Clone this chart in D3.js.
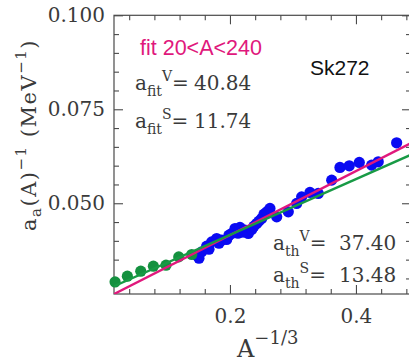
<!DOCTYPE html>
<html>
<head>
<meta charset="utf-8">
<script src="https://cdn.jsdelivr.net/npm/d3@7/dist/d3.min.js"></script>
<style>
  html, body { margin: 0; padding: 0; background: #ffffff; }
  svg { display: block; }
</style>
</head>
<body>
<svg id="chart" width="409" height="364"></svg>
<script>
// ---- data ----
const greenX = [0.0176, 0.0371, 0.0584, 0.0784, 0.0985, 0.1187, 0.1393];
const greenY = [0.02907, 0.03059, 0.03192, 0.03325, 0.03352, 0.03573, 0.03637];

const blueX = [0.1472, 0.1508, 0.1551, 0.1630, 0.1667, 0.1710, 0.1789, 0.1826, 0.1869, 0.1948,
               0.1984, 0.2027, 0.2080, 0.2127, 0.2159, 0.2207, 0.2238, 0.2291, 0.2345, 0.2381,
               0.2424, 0.2461, 0.2503, 0.2540, 0.2583, 0.2635, 0.2742, 0.2926, 0.3059, 0.3138,
               0.3270, 0.3402, 0.3615, 0.3746, 0.3894, 0.4053, 0.4249, 0.4354, 0.4646];
const blueY = [0.03618, 0.03538, 0.03706, 0.03858, 0.03778, 0.03972, 0.04063, 0.03938, 0.04018, 0.04036,
               0.04151, 0.04196, 0.04329, 0.04204, 0.04356, 0.04231, 0.04284, 0.04196, 0.04302, 0.04390,
               0.04462, 0.04524, 0.04595, 0.04710, 0.04771, 0.04862, 0.04638, 0.04771, 0.04995, 0.05170,
               0.05288, 0.05261, 0.05615, 0.05953, 0.05996, 0.06086, 0.06014, 0.06102, 0.06608];

// fit lines (end points)
const fitLineX = [0.0159, 0.4874];
const fitLineY = [0.02585, 0.06601];   // magenta, fit 20<A<240
const thLineX  = [0.0159, 0.4874];
const thLineY  = [0.02792, 0.06290];   // green, theory

const xMajorTicks = [0.2, 0.4];
const xMinorTicks = [0.04, 0.08, 0.12, 0.16, 0.24, 0.28, 0.32, 0.36, 0.44, 0.48];
const yMajorTicks = [0.050, 0.075, 0.100];
const yMinorTicks = [0.030, 0.035, 0.040, 0.045, 0.055, 0.060, 0.065, 0.070, 0.080, 0.085, 0.090, 0.095];

// ---- layout ----
const L = 114, R = 411, T = 15.3, B = 294;
const svg = d3.select("#chart");
const x = d3.scaleLinear().domain([0.0159, 0.4874]).range([L, R]);
const y = d3.scaleLinear().domain([0.02586, 0.100]).range([B, T]);

const axisColor = "#4a4a4a";
const textColor = "#3a3a3a";

svg.append("defs").append("clipPath").attr("id", "clip")
  .append("rect").attr("x", L).attr("y", T).attr("width", R - L).attr("height", B - T);

// frame
svg.append("rect").attr("x", L).attr("y", T).attr("width", R - L).attr("height", B - T)
  .attr("fill", "none").attr("stroke", axisColor).attr("stroke-width", 1.2);

function styleAxis(g) {
  g.select(".domain").remove();
  g.attr("font-family", "DejaVu Serif").attr("font-size", 20);
  g.selectAll(".tick line").attr("stroke", axisColor).attr("stroke-width", 1.1);
  g.selectAll("text").attr("fill", textColor);
}

// bottom axis
svg.append("g").attr("transform", `translate(0,${B})`)
  .call(d3.axisBottom(x).tickValues(xMajorTicks).tickSize(-9).tickPadding(15).tickFormat(d3.format(".1f")))
  .call(styleAxis);
svg.append("g").attr("transform", `translate(0,${B})`)
  .call(d3.axisBottom(x).tickValues(xMinorTicks).tickSize(-5).tickFormat(""))
  .call(styleAxis);
// top axis
svg.append("g").attr("transform", `translate(0,${T})`)
  .call(d3.axisTop(x).tickValues(xMajorTicks).tickSize(-9).tickFormat(""))
  .call(styleAxis);
svg.append("g").attr("transform", `translate(0,${T})`)
  .call(d3.axisTop(x).tickValues(xMinorTicks).tickSize(-5).tickFormat(""))
  .call(styleAxis);
// left axis
svg.append("g").attr("transform", `translate(${L},0)`)
  .call(d3.axisLeft(y).tickValues(yMajorTicks).tickSize(-9).tickPadding(9).tickFormat(d3.format(".3f")))
  .call(styleAxis);
svg.append("g").attr("transform", `translate(${L},0)`)
  .call(d3.axisLeft(y).tickValues(yMinorTicks).tickSize(-5).tickFormat(""))
  .call(styleAxis);
// right axis
svg.append("g").attr("transform", `translate(${R},0)`)
  .call(d3.axisRight(y).tickValues(yMajorTicks).tickSize(-9).tickFormat(""))
  .call(styleAxis);
svg.append("g").attr("transform", `translate(${R},0)`)
  .call(d3.axisRight(y).tickValues(yMinorTicks).tickSize(-5).tickFormat(""))
  .call(styleAxis);

// ---- marks ----
const pts = svg.append("g");
pts.selectAll("circle.blue").data(blueX.map((v, i) => [v, blueY[i]]))
  .join("circle").attr("class", "blue")
  .attr("cx", d => x(d[0])).attr("cy", d => y(d[1])).attr("r", 5.6)
  .attr("fill", "#0a0af2");

pts.selectAll("circle.green").data(greenX.map((v, i) => [v, greenY[i]]))
  .join("circle").attr("class", "green")
  .attr("cx", d => x(d[0])).attr("cy", d => y(d[1])).attr("r", 5.6)
  .attr("fill", "#14913f");

const plot = svg.append("g").attr("clip-path", "url(#clip)");
const line = d3.line().x(d => x(d[0])).y(d => y(d[1]));
plot.append("path").datum(fitLineX.map((v, i) => [v, fitLineY[i]]))
  .attr("d", line).attr("fill", "none").attr("stroke", "#e0187c").attr("stroke-width", 2.4);
plot.append("path").datum(thLineX.map((v, i) => [v, thLineY[i]]))
  .attr("d", line).attr("fill", "none").attr("stroke", "#189a45").attr("stroke-width", 2.4);

// ---- texts ----
svg.append("text").attr("x", 140).attr("y", 55)
  .attr("font-family", "Liberation Sans").attr("font-size", 21.5).attr("fill", "#e0187c")
  .text("fit 20<A<240");

svg.append("text").attr("x", 310).attr("y", 75)
  .attr("font-family", "Liberation Sans").attr("font-size", 21).attr("fill", "#111111")
  .text("Sk272");

function param(xa, yb, sub, sup, val, xv) {
  const t = svg.append("text").attr("x", xa).attr("y", yb)
    .attr("font-family", "DejaVu Serif").attr("font-size", 20).attr("fill", textColor);
  t.append("tspan").text("a");
  t.append("tspan").attr("font-size", 14).attr("dy", 6).text(sub);
  t.append("tspan").attr("font-size", 14).attr("dy", -15).text(sup);
  t.append("tspan").attr("dy", 9).text("=");
  t.append("tspan").attr("x", xv).text(val);
}
param(135, 90, "fit", "V", "40.84", 194);
param(135, 128, "fit", "S", "11.74", 194);
param(273, 250, "th", "V", "37.40", 339);
param(273, 282, "th", "S", "13.48", 339);

// x axis title
const xt = svg.append("text").attr("x", 237).attr("y", 357)
  .attr("font-family", "DejaVu Serif").attr("font-size", 24).attr("fill", textColor);
xt.append("tspan").text("A");
xt.append("tspan").attr("font-size", 18).attr("dy", -13).text("−1/3");

// y axis title
const yt = svg.append("text").attr("transform", "translate(36,231) rotate(-90)")
  .attr("font-family", "DejaVu Serif").attr("font-size", 21).attr("letter-spacing", 1.5)
  .attr("fill", textColor);
yt.append("tspan").text("a");
yt.append("tspan").attr("font-size", 15).attr("dy", 5).text("a");
yt.append("tspan").attr("dy", -5).text("(A)");
yt.append("tspan").attr("font-size", 15).attr("dy", -10).text("−1");
yt.append("tspan").attr("dy", 10).text("  (MeV");
yt.append("tspan").attr("font-size", 15).attr("dy", -10).text("−1");
yt.append("tspan").attr("dy", 10).text(")");
</script>
</body>
</html>
